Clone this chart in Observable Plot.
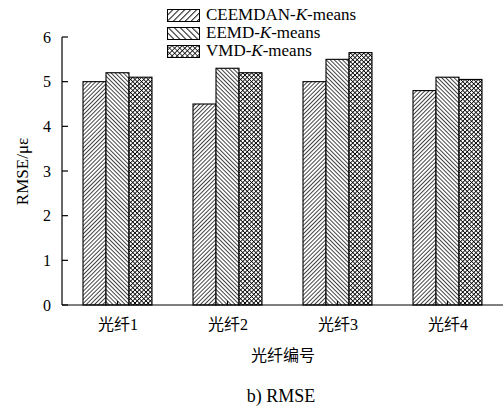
<!DOCTYPE html>
<html>
<head>
<meta charset="utf-8">
<script src="https://cdn.jsdelivr.net/npm/d3@7"></script>
<script src="https://cdn.jsdelivr.net/npm/@observablehq/plot@0.6"></script>
<style>
  html, body { margin: 0; padding: 0; background: #fff; }
  #wrap { position: relative; width: 503px; height: 410px; font-family: "Liberation Serif", "Noto Sans CJK SC", serif; color: #000; }
  #chart svg, #chart svg text, #chart svg g { font-family: "Liberation Serif", "Noto Sans CJK SC", serif !important; }
  #legend { position: absolute; left: 167px; top: 6px; font-size: 17px; line-height: 18px; }
  .row { display: flex; align-items: center; height: 18px; }
  .row svg { margin-right: 6px; }
  #caption { position: absolute; left: 0; width: 562px; top: 386px; text-align: center; font-size: 18px; }
</style>
</head>
<body>
<svg width="0" height="0" style="position:absolute">
  <defs>
    <pattern id="pA" patternUnits="userSpaceOnUse" width="2.9" height="2.9" patternTransform="rotate(45)">
      <rect width="2.9" height="2.9" fill="#fff"/>
      <line x1="0.4" y1="0" x2="0.4" y2="2.9" stroke="#000" stroke-width="0.8"/>
    </pattern>
    <pattern id="pB" patternUnits="userSpaceOnUse" width="2.9" height="2.9" patternTransform="rotate(-45)">
      <rect width="2.9" height="2.9" fill="#fff"/>
      <line x1="0.4" y1="0" x2="0.4" y2="2.9" stroke="#000" stroke-width="0.8"/>
    </pattern>
    <pattern id="pC" patternUnits="userSpaceOnUse" width="3.1" height="3.1" patternTransform="rotate(45)">
      <rect width="3.1" height="3.1" fill="#fff"/>
      <line x1="0.4" y1="0" x2="0.4" y2="3.1" stroke="#000" stroke-width="0.8"/>
      <line x1="0" y1="0.4" x2="3.1" y2="0.4" stroke="#000" stroke-width="0.8"/>
    </pattern>
    <pattern id="lA" patternUnits="userSpaceOnUse" width="4.2" height="4.2" patternTransform="rotate(45)">
      <rect width="4.2" height="4.2" fill="#fff"/>
      <line x1="0.5" y1="0" x2="0.5" y2="4.2" stroke="#000" stroke-width="0.9"/>
    </pattern>
    <pattern id="lB" patternUnits="userSpaceOnUse" width="4.2" height="4.2" patternTransform="rotate(-45)">
      <rect width="4.2" height="4.2" fill="#fff"/>
      <line x1="0.5" y1="0" x2="0.5" y2="4.2" stroke="#000" stroke-width="0.9"/>
    </pattern>
    <pattern id="lC" patternUnits="userSpaceOnUse" width="3.6" height="3.6" patternTransform="rotate(45)">
      <rect width="3.6" height="3.6" fill="#fff"/>
      <line x1="0.4" y1="0" x2="0.4" y2="3.6" stroke="#000" stroke-width="0.8"/>
      <line x1="0" y1="0.4" x2="3.6" y2="0.4" stroke="#000" stroke-width="0.8"/>
    </pattern>
  </defs>
</svg>
<div id="wrap">
  <div id="chart"></div>
  <div id="legend"></div>
  <div id="caption"></div>
</div>
<script>
const groups = ["光纤1", "光纤2", "光纤3", "光纤4"];
const series = ["CEEMDAN-K-means", "EEMD-K-means", "VMD-K-means"];
const ceemdan = [5.0, 4.5, 5.0, 4.8];
const eemd = [5.2, 5.3, 5.5, 5.1];
const vmd = [5.1, 5.2, 5.65, 5.05];
const yTicks = [0, 1, 2, 3, 4, 5, 6];
const xTitle = "光纤编号";
const yTitle = "RMSE/με";
const captionText = "b) RMSE";

const seriesValues = [ceemdan, eemd, vmd];
const data = [];
groups.forEach((g, i) => {
  series.forEach((s, j) => data.push({group: g, series: s, value: seriesValues[j][i]}));
});

const barFills = ["url(#pA)", "url(#pB)", "url(#pC)"];
const legendFills = ["url(#lA)", "url(#lB)", "url(#lC)"];
const FONT = "Liberation Serif, Noto Sans CJK SC, serif";

const W = 503, H = 365, ML = 62, MR = 0, MT = 37, MB = 60;
const fxScale = {domain: groups, paddingInner: 0.372, paddingOuter: 0.186, label: null};
// offset between the plot's left edge and the first facet's left edge
const fxTmp = d3.scaleBand(groups, [ML, W - MR]).paddingInner(0.372).paddingOuter(0.186);
const facetShift = fxTmp(groups[0]) - ML;

const plot = Plot.plot({
  width: W,
  height: H,
  marginTop: MT,
  marginBottom: MB,
  marginLeft: ML,
  marginRight: MR,
  style: {fontFamily: FONT, fontSize: "16px", color: "#000", background: "#fff", overflow: "visible"},
  fx: fxScale,
  x: {domain: series, padding: 0, axis: null},
  y: {domain: [0, 6], label: null},
  fill: {type: "identity"},
  marks: [
    Plot.barY(data, {fx: "group", x: "series", y: "value", fill: d => barFills[series.indexOf(d.series)], stroke: "#000", strokeWidth: 1.1}),
    Plot.axisY(yTicks, {tickSize: 0, tickPadding: facetShift + 12, fontSize: 16, fontFamily: FONT, label: null}),
    Plot.axisY({ticks: [], tickSize: 0, fontSize: 17, fontFamily: FONT, label: yTitle, labelArrow: "none", labelAnchor: "center", labelOffset: facetShift + 47}),
    Plot.axisFx({anchor: "bottom", tickSize: 0, tickPadding: 13, fontSize: 16, fontFamily: FONT, label: xTitle, labelAnchor: "center", labelOffset: 55})
  ]
});
document.getElementById("chart").appendChild(plot);
d3.select(plot).selectAll("text").style("font-family", FONT);

// axis lines and inward ticks, placed with the chart's own scales
const ys = plot.scale("y");
const fxs = plot.scale("fx");
const svg = d3.select(plot);
const y0 = ys.apply(0), yTop = ys.apply(6);
const g = svg.append("g").attr("stroke", "#000").attr("stroke-width", 1.2);
g.append("line").attr("x1", ML).attr("x2", ML).attr("y1", yTop).attr("y2", y0);
g.append("line").attr("x1", ML).attr("x2", W).attr("y1", y0).attr("y2", y0);
yTicks.forEach(t => {
  g.append("line").attr("x1", ML).attr("x2", ML + 6).attr("y1", ys.apply(t)).attr("y2", ys.apply(t));
});
groups.forEach(k => {
  const cx = fxs.apply(k) + fxs.bandwidth / 2;
  g.append("line").attr("x1", cx).attr("x2", cx).attr("y1", y0).attr("y2", y0 - 4);
});

// legend
const legend = d3.select("#legend");
series.forEach((s, j) => {
  const row = legend.append("div").attr("class", "row");
  const sw = row.append("svg").attr("width", 33).attr("height", 13);
  sw.append("rect").attr("x", 0.5).attr("y", 0.5).attr("width", 32).attr("height", 12)
    .attr("fill", legendFills[j]).attr("stroke", "#000").attr("stroke-width", 1);
  row.append("span").html(s.replace("-K-", "-<i>K</i>-"));
});
document.getElementById("caption").textContent = captionText;
</script>
</body>
</html>
